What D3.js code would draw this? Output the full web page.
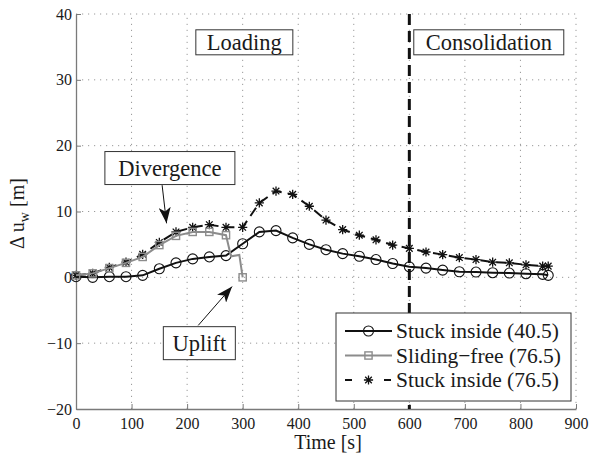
<!DOCTYPE html>
<html>
<head>
<meta charset="utf-8">
<script src="https://cdn.jsdelivr.net/npm/d3@7/dist/d3.min.js"></script>
<style>
  @font-face {
    font-family: "ChartSerif";
    src: local("Liberation Serif"), local("LiberationSerif"), local("LiberationSerif-Regular"), local("Liberation Serif Regular");
  }
  svg text, svg tspan { font-family: "Liberation Serif", "ChartSerif", "Times New Roman", serif !important; }
</style>
</head>
<body style="margin:0">
<svg id="chart" width="591" height="457" font-family="Liberation Serif"></svg>
<script>
// Time axis samples [s]; markers sit on the 30 s steps
const timeStuck = [0,30,60,90,120,150,180,210,240,270,300,330,360,390,420,450,480,510,540,570,600,630,660,690,720,750,780,810,840,850];
const stuck405 = [0.1,0.0,0.1,0.1,0.3,1.3,2.2,2.8,3.1,3.3,5.1,6.9,7.1,6.0,5.0,4.2,3.6,3.2,2.7,2.1,1.6,1.4,1.1,0.85,0.8,0.7,0.65,0.55,0.45,0.3];
const stuck765 = [0.3,0.6,1.5,2.3,3.5,5.3,6.9,7.6,8.0,7.6,7.6,11.3,13.1,12.6,10.8,8.7,7.25,6.4,5.7,4.9,4.4,3.85,3.45,3.0,2.7,2.3,2.2,1.9,1.7,1.7];

// Sliding-free case ends at uplift (the 279 s and 294 s samples carry no marker)
const timeSliding = [0,30,60,90,120,150,180,210,240,270,279,294,300];
const sliding765 = [0.3,0.6,1.4,2.2,3.1,4.9,6.3,6.9,6.9,6.4,3.2,3.4,0.0];

const xTicks = [0,100,200,300,400,500,600,700,800,900];
const yTicks = [-20,-10,0,10,20,30,40];
const consolidationStart = 600;

const seriesNames = ["Stuck inside (40.5)", "Sliding\u2212free (76.5)", "Stuck inside (76.5)"];

const W = 591, H = 457;
const margin = {left: 76, right: 15, top: 14, bottom: 48};
const serif = "Liberation Serif";
const svg = d3.select("#chart");

const x = d3.scaleLinear().domain([0, 900]).range([margin.left, W - margin.right]);
const y = d3.scaleLinear().domain([-20, 40]).range([H - margin.bottom, margin.top]);

const axisGrey = "#7a7a7a";
const textCol = "#1a1a1a";

// dotted grid
const grid = svg.append("g").attr("stroke", "#9a9a9a").attr("stroke-width", 1)
  .attr("stroke-dasharray", "1.2,4.8");
grid.selectAll("line.gx").data(xTicks.filter(d => d > 0)).join("line")
  .attr("x1", d => x(d)).attr("x2", d => x(d))
  .attr("y1", y(-20)).attr("y2", y(40));
grid.selectAll("line.gy").data(yTicks.filter(d => d > -20)).join("line")
  .attr("class", "gy")
  .attr("x1", x(0)).attr("x2", x(900))
  .attr("y1", d => y(d)).attr("y2", d => y(d));

// axes (ticks point inward)
const xAxis = svg.append("g").attr("transform", `translate(0,${y(-20)})`)
  .call(d3.axisBottom(x).tickValues(xTicks).tickSizeInner(-5).tickSizeOuter(0).tickPadding(9));
const yAxis = svg.append("g").attr("transform", `translate(${x(0)},0)`)
  .call(d3.axisLeft(y).tickValues(yTicks).tickSizeInner(-5).tickSizeOuter(0).tickPadding(4)
    .tickFormat(d => d < 0 ? "\u2212" + Math.abs(d) : d));
[xAxis, yAxis].forEach(a => {
  a.attr("font-family", serif).attr("font-size", 16);
  a.select(".domain").attr("stroke", axisGrey).attr("stroke-width", 1.3);
  a.selectAll(".tick line").attr("stroke", axisGrey).attr("stroke-width", 1);
  a.selectAll(".tick text").attr("fill", textCol).attr("font-family", serif);
});

// axis titles
svg.append("text").attr("x", (x(0) + x(900)) / 2 + 2).attr("y", 449)
  .attr("text-anchor", "middle").attr("fill", textCol).attr("font-size", 20)
  .attr("font-family", serif)
  .text("Time [s]");
const yl = svg.append("text")
  .attr("transform", `translate(24,${(y(-20) + y(40)) / 2 + 2}) rotate(-90)`)
  .attr("text-anchor", "middle").attr("fill", textCol).attr("font-size", 20)
  .attr("font-family", serif);
yl.append("tspan").text("\u0394 u");
yl.append("tspan").attr("dy", 5).attr("font-size", 14).text("w");
yl.append("tspan").attr("dy", -5).text(" [m]");

// phase boundary
svg.append("line")
  .attr("x1", x(consolidationStart)).attr("x2", x(consolidationStart))
  .attr("y1", y(40)).attr("y2", y(-20))
  .attr("stroke", "#111").attr("stroke-width", 3).attr("stroke-dasharray", "11,6");

const line = d3.line().x(d => x(d[0])).y(d => y(d[1]));
const zip = (t, v) => t.map((d, i) => [d, v[i]]);
const onStep = d => d[0] % 30 === 0 || d[0] === 850;

const dStuck405 = zip(timeStuck, stuck405);
const dStuck765 = zip(timeStuck, stuck765);
const dSliding = zip(timeSliding, sliding765);

// marker drawers
function circleMarker(g, cx, cy) {
  g.append("circle").attr("cx", cx).attr("cy", cy).attr("r", 5)
    .attr("fill", "none").attr("stroke", "#111").attr("stroke-width", 1.1);
}
function squareMarker(g, cx, cy) {
  g.append("rect").attr("x", cx - 3.6).attr("y", cy - 3.6).attr("width", 7.2).attr("height", 7.2)
    .attr("fill", "none").attr("stroke", "#8c8c8c").attr("stroke-width", 1.4);
}
function starMarker(g, cx, cy) {
  const r = 4.6, r2 = r * 0.72;
  g.append("path")
    .attr("d", `M${cx - r},${cy}H${cx + r}M${cx},${cy - r}V${cy + r}` +
      `M${cx - r2},${cy - r2}L${cx + r2},${cy + r2}M${cx - r2},${cy + r2}L${cx + r2},${cy - r2}`)
    .attr("stroke", "#111").attr("stroke-width", 1.3).attr("fill", "none");
}

// Stuck inside (76.5): dashed with asterisks
svg.append("path").datum(dStuck765).attr("d", line)
  .attr("fill", "none").attr("stroke", "#111").attr("stroke-width", 2).attr("stroke-dasharray", "10,6");
const gStar = svg.append("g");
dStuck765.filter(onStep).forEach(d => starMarker(gStar, x(d[0]), y(d[1])));

// Stuck inside (40.5): solid with circles
svg.append("path").datum(dStuck405).attr("d", line)
  .attr("fill", "none").attr("stroke", "#111").attr("stroke-width", 2);
const gCirc = svg.append("g");
dStuck405.filter(onStep).forEach(d => circleMarker(gCirc, x(d[0]), y(d[1])));

// Sliding-free (76.5): grey with squares
svg.append("path").datum(dSliding).attr("d", line)
  .attr("fill", "none").attr("stroke", "#8c8c8c").attr("stroke-width", 2);
const gSq = svg.append("g");
dSliding.filter(onStep).forEach(d => squareMarker(gSq, x(d[0]), y(d[1])));

// boxed labels
function boxLabel(cx, cy, label, w, h) {
  const g = svg.append("g");
  g.append("rect").attr("x", cx - w / 2).attr("y", cy - h / 2).attr("width", w).attr("height", h)
    .attr("fill", "#fff").attr("stroke", "#333").attr("stroke-width", 1);
  g.append("text").attr("x", cx).attr("y", cy + 7.5).attr("text-anchor", "middle")
    .attr("fill", textCol).attr("font-size", 22.5).attr("font-family", serif).text(label);
}
boxLabel(x(303), y(35.7), "Loading", 97, 25);
boxLabel(x(743), y(35.7), "Consolidation", 150, 25);

// arrows
svg.append("defs").append("marker").attr("id", "ah")
  .attr("viewBox", "0 0 16 12").attr("refX", 16).attr("refY", 6)
  .attr("markerWidth", 16).attr("markerHeight", 12).attr("markerUnits", "userSpaceOnUse")
  .attr("orient", "auto")
  .append("path").attr("d", "M0,0L16,6L0,12L4,6Z").attr("fill", "#111");
function arrow(x1, y1, x2, y2) {
  svg.append("line").attr("x1", x(x1)).attr("y1", y(y1)).attr("x2", x(x2)).attr("y2", y(y2))
    .attr("stroke", "#111").attr("stroke-width", 1).attr("marker-end", "url(#ah)");
}
arrow(155, 14.0, 163, 8.2);
arrow(220, -7.3, 281, -1.4);
boxLabel(x(169), y(16.6), "Divergence", 130, 33);
boxLabel(x(222), y(-10.0), "Uplift", 72, 33);

// legend
const lg = svg.append("g");
const lx = 336, ly = 313, lw = 235, lh = 88;
lg.append("rect").attr("x", lx).attr("y", ly).attr("width", lw).attr("height", lh)
  .attr("fill", "#fff").attr("stroke", "#333").attr("stroke-width", 1);
const rows = [
  {name: seriesNames[0], stroke: "#111", dash: null, mark: circleMarker},
  {name: seriesNames[1], stroke: "#8c8c8c", dash: null, mark: squareMarker},
  {name: seriesNames[2], stroke: "#111", dash: "7,32", mark: starMarker}
];
rows.forEach((r, i) => {
  const cy = ly + 18 + i * 24.5;
  lg.append("line").attr("x1", 345).attr("x2", 392).attr("y1", cy).attr("y2", cy)
    .attr("stroke", r.stroke).attr("stroke-width", 2)
    .attr("stroke-dasharray", r.dash);
  r.mark(lg, 368.5, cy);
  lg.append("text").attr("x", 396).attr("y", cy + 7).attr("fill", textCol)
    .attr("font-size", 21.5).attr("font-family", serif).text(r.name);
});
</script>
</body>
</html>
